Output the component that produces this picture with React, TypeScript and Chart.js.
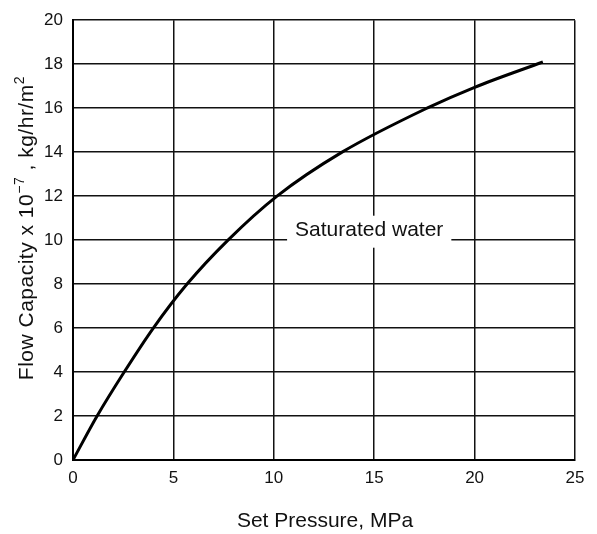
import { useEffect, useRef } from "react";
import { Chart, registerables } from "chart.js";

Chart.register(...registerables);

// ---- data ----
const pressure = [0, 1.2, 2.55, 4.0, 5.68, 7.72, 10.16, 13.4, 17.63, 20, 23.4];
const capacity = [0, 2.0, 4.0, 6.0, 8.0, 10.0, 12.0, 14.0, 16.0, 16.95, 18.1];
const xTicks = [0, 5, 10, 15, 20, 25];
const yTicks = [0, 2, 4, 6, 8, 10, 12, 14, 16, 18, 20];
const seriesLabel = "Saturated water";
const labelPressure = 11.06;
const labelCapacity = 10.2;
const xTitle = "Set Pressure, MPa";
const yTitleParts = [
  { text: "Flow Capacity x 10", sup: false },
  { text: "\u22127", sup: true },
  { text: " , kg/hr/m", sup: false },
  { text: "2", sup: true },
];

const FONT = '"Liberation Sans", Arial, sans-serif';

const annotations = {
  id: "annotations",
  afterDraw(chart: any) {
    const ctx = chart.ctx as CanvasRenderingContext2D;
    const xs = chart.scales.x;
    const ys = chart.scales.y;
    const area = chart.chartArea;

    // curve label with white box hiding the grid
    ctx.save();
    ctx.font = `21px ${FONT}`;
    const lx = xs.getPixelForValue(labelPressure);
    const ly = ys.getPixelForValue(labelCapacity);
    const w = ctx.measureText(seriesLabel).width;
    ctx.fillStyle = "#ffffff";
    ctx.fillRect(lx - 8, ly - 20, w + 16, 32);
    ctx.fillStyle = "#111";
    ctx.textBaseline = "alphabetic";
    ctx.textAlign = "left";
    ctx.fillText(seriesLabel, lx, ly);
    ctx.restore();

    // x title
    ctx.save();
    ctx.font = `21px ${FONT}`;
    ctx.fillStyle = "#111";
    ctx.textAlign = "center";
    ctx.textBaseline = "alphabetic";
    ctx.fillText(xTitle, (area.left + area.right) / 2 + 1, chart.height - 7);
    ctx.restore();

    // y title (rotated) with superscripts
    ctx.save();
    const big = `21px ${FONT}`;
    const small = `14px ${FONT}`;
    let total = 0;
    for (const p of yTitleParts) {
      ctx.font = p.sup ? small : big;
      total += ctx.measureText(p.text).width;
    }
    const spacing = 0.5;
    const nChars = yTitleParts.reduce((s, p) => s + p.text.length, 0);
    total += spacing * nChars;
    const cy = (area.top + area.bottom) / 2 - 12;
    ctx.translate(33, cy + total / 2);
    ctx.rotate(-Math.PI / 2);
    ctx.fillStyle = "#111";
    ctx.textAlign = "left";
    ctx.textBaseline = "alphabetic";
    let pos = 0;
    for (const p of yTitleParts) {
      ctx.font = p.sup ? small : big;
      for (const ch of p.text) {
        ctx.fillText(ch, pos, p.sup ? -9 : 0);
        pos += ctx.measureText(ch).width + spacing;
      }
    }
    ctx.restore();
  },
};

export default function App() {
  const ref = useRef<HTMLCanvasElement>(null);

  useEffect(() => {
    if (!ref.current) return;
    const chart = new Chart(ref.current, {
      type: "line",
      data: {
        datasets: [
          {
            label: seriesLabel,
            data: pressure.map((p, i) => ({ x: p, y: capacity[i] })),
            borderColor: "#000",
            borderWidth: 3,
            pointRadius: 0,
            cubicInterpolationMode: "monotone",
            fill: false,
          },
        ],
      },
      options: {
        animation: false,
        responsive: true,
        maintainAspectRatio: false,
        layout: { padding: { left: 0, top: 15, right: 22, bottom: 0 } },
        plugins: {
          legend: { display: false },
          tooltip: { enabled: false },
          title: { display: false },
        },
        scales: {
          x: {
            type: "linear",
            min: 0,
            max: 25,
            afterBuildTicks: (s: any) => {
              s.ticks = xTicks.map((v) => ({ value: v }));
            },
            afterFit: (s: any) => {
              s.height = 74;
            },
            grid: { color: "#111", lineWidth: 1.5, drawTicks: false },
            border: { color: "#000", width: 2 },
            ticks: {
              padding: 8,
              color: "#111",
              font: { family: FONT, size: 17 },
              maxRotation: 0,
            },
          },
          y: {
            type: "linear",
            min: 0,
            max: 20,
            afterBuildTicks: (s: any) => {
              s.ticks = yTicks.map((v) => ({ value: v }));
            },
            afterFit: (s: any) => {
              s.width = 73;
            },
            grid: { color: "#111", lineWidth: 1.5, drawTicks: false },
            border: { color: "#000", width: 2 },
            ticks: {
              padding: 10,
              color: "#111",
              font: { family: FONT, size: 17 },
            },
          },
        },
      },
      plugins: [annotations],
    });
    return () => chart.destroy();
  }, []);

  return (
    <div style={{ position: "absolute", left: 0, top: 0, width: 597, height: 534, background: "#fff" }}>
      <canvas ref={ref} />
    </div>
  );
}
